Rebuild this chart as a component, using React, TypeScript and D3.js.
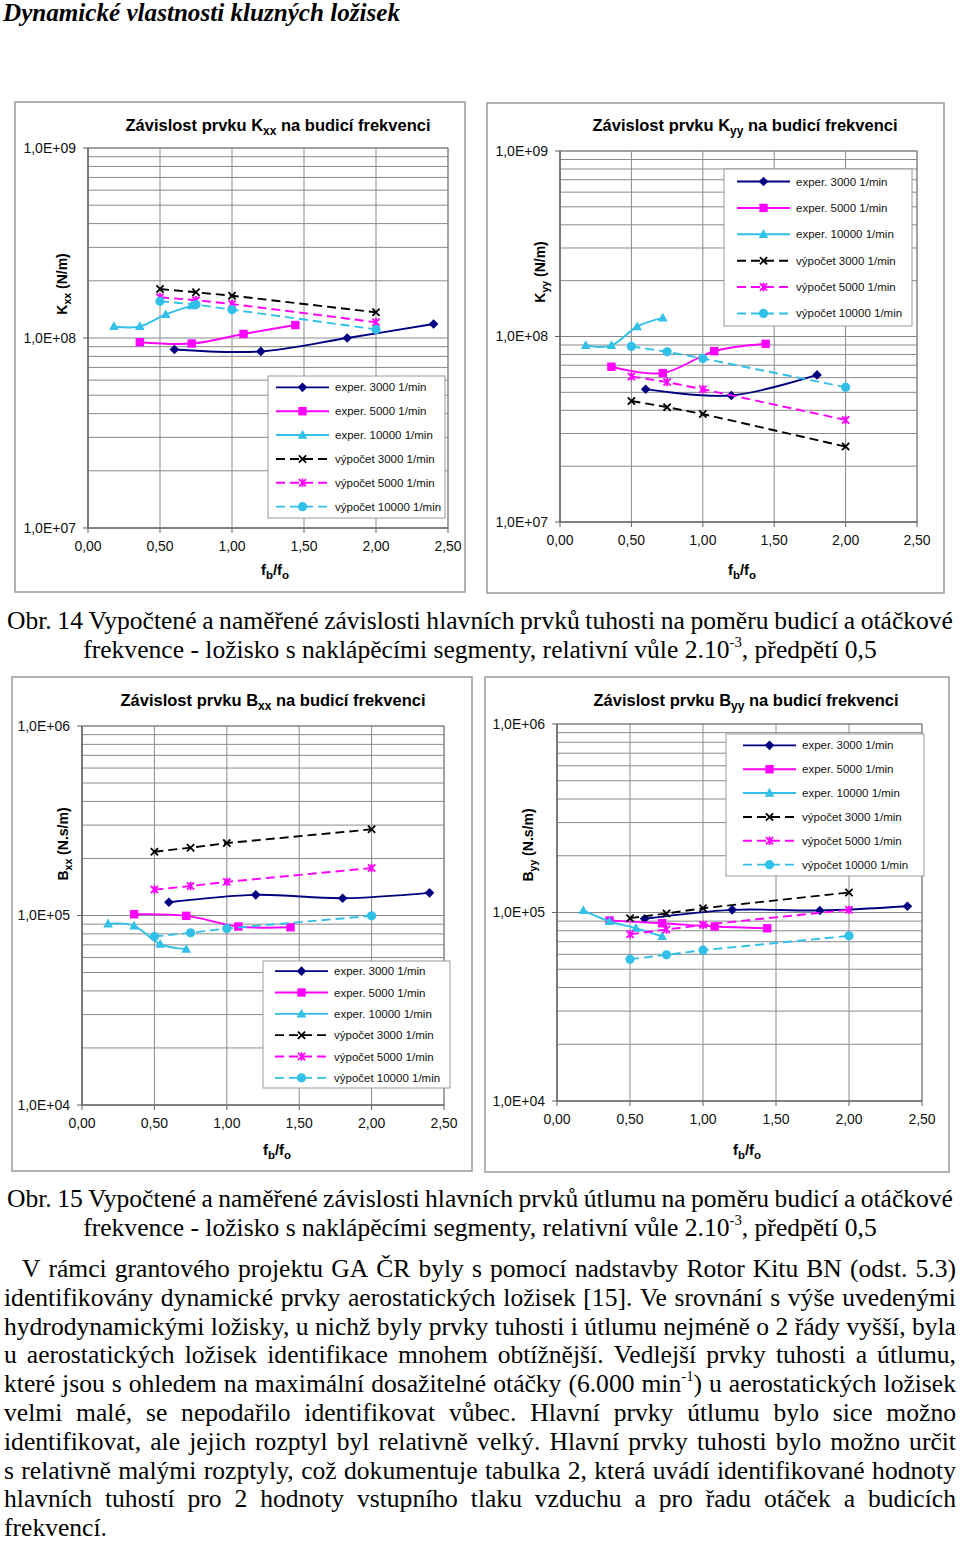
import React, { useMemo } from 'react';
import * as d3 from 'd3';

// ---------------- data ----------------
const xExp3000 = [0.6, 1.2, 1.8, 2.4];
const xExp3000Kyy = [0.6, 1.2, 1.8];
const xExp5000 = [0.36, 0.72, 1.08, 1.44];
const xExp10000 = [0.18, 0.36, 0.54, 0.72];
const xCalc = [0.5, 0.75, 1.0, 2.0];

const kxxExp3000 = [8.7e7, 8.5e7, 1.0e8, 1.185e8];
const kxxExp5000 = [9.5e7, 9.35e7, 1.05e8, 1.17e8];
const kxxExp10000 = [1.15e8, 1.15e8, 1.33e8, 1.48e8];
const kxxCalc3000 = [1.81e8, 1.74e8, 1.67e8, 1.365e8];
const kxxCalc5000 = [1.64e8, 1.58e8, 1.51e8, 1.21e8];
const kxxCalc10000 = [1.56e8, 1.5e8, 1.41e8, 1.11e8];

const kyyExp3000 = [5.2e7, 4.81e7, 6.21e7];
const kyyExp5000 = [6.87e7, 6.35e7, 8.34e7, 9.13e7];
const kyyExp10000 = [8.95e7, 8.95e7, 1.13e8, 1.26e8];
const kyyCalc3000 = [4.49e7, 4.16e7, 3.82e7, 2.55e7];
const kyyCalc5000 = [6.09e7, 5.68e7, 5.2e7, 3.55e7];
const kyyCalc10000 = [8.84e7, 8.27e7, 7.62e7, 5.33e7];

const bxxExp3000 = [1.175e5, 1.285e5, 1.234e5, 1.317e5];
const bxxExp5000 = [1.016e5, 9.96e4, 8.75e4, 8.67e4];
const bxxExp10000 = [9.04e4, 8.82e4, 7.06e4, 6.65e4];
const bxxCalc3000 = [2.17e5, 2.28e5, 2.41e5, 2.85e5];
const bxxCalc5000 = [1.37e5, 1.43e5, 1.505e5, 1.78e5];
const bxxCalc10000 = [7.75e4, 8.1e4, 8.54e4, 9.96e4];

const byyExp3000 = [9.26e4, 1.033e5, 1.025e5, 1.08e5];
const byyExp5000 = [9.07e4, 8.77e4, 8.43e4, 8.25e4];
const byyExp10000 = [1.025e5, 8.96e4, 8.26e4, 7.46e4];
const byyCalc3000 = [9.33e4, 9.88e4, 1.054e5, 1.277e5];
const byyCalc5000 = [7.67e4, 8.12e4, 8.6e4, 1.033e5];
const byyCalc10000 = [5.65e4, 5.96e4, 6.31e4, 7.52e4];

const seriesLabels = [
  'exper. 3000 1/min',
  'exper. 5000 1/min',
  'exper. 10000 1/min',
  'výpočet 3000 1/min',
  'výpočet 5000 1/min',
  'výpočet 10000 1/min',
];

const xTickValues = [0, 0.5, 1.0, 1.5, 2.0, 2.5];
const xTickLabels = ['0,00', '0,50', '1,00', '1,50', '2,00', '2,50'];
const kTickLabels = ['1,0E+07', '1,0E+08', '1,0E+09'];
const bTickLabels = ['1,0E+04', '1,0E+05', '1,0E+06'];

const pageTitle = 'Dynamické vlastnosti kluzných ložisek';
const caption14 = [
  'Obr. 14 Vypočtené a naměřené závislosti hlavních prvků tuhosti na poměru budicí a otáčkové',
  'frekvence - ložisko s naklápěcími segmenty, relativní vůle 2.10^{-3}, předpětí 0,5',
];
const caption15 = [
  'Obr. 15 Vypočtené a naměřené závislosti hlavních prvků útlumu na poměru budicí a otáčkové',
  'frekvence - ložisko s naklápěcími segmenty, relativní vůle 2.10^{-3}, předpětí 0,5',
];
const bodyLines = [
  'V rámci grantového projektu GA ČR byly s pomocí nadstavby Rotor Kitu BN (odst. 5.3)',
  'identifikovány dynamické prvky aerostatických ložisek [15]. Ve srovnání s výše uvedenými',
  'hydrodynamickými ložisky, u nichž byly prvky tuhosti i útlumu nejméně o 2 řády vyšší, byla',
  'u aerostatických ložisek identifikace mnohem obtížnější. Vedlejší prvky tuhosti a útlumu,',
  'které jsou s ohledem na maximální dosažitelné otáčky (6.000 min^{-1}) u aerostatických ložisek',
  'velmi malé, se nepodařilo identifikovat vůbec. Hlavní prvky útlumu bylo sice možno',
  'identifikovat, ale jejich rozptyl byl relativně velký. Hlavní prvky tuhosti bylo možno určit',
  's relativně malými rozptyly, což dokumentuje tabulka 2, která uvádí identifikované hodnoty',
  'hlavních tuhostí pro 2 hodnoty vstupního tlaku vzduchu a pro řadu otáček a budicích',
  'frekvencí.',
];

// ---------------- styles ----------------
const CYAN = '#30C0E8';
const seriesStyles = [
  { color: '#000080', dash: null, marker: 'diamond', smooth: true },
  { color: '#FF00FF', dash: null, marker: 'square', smooth: true },
  { color: CYAN, dash: null, marker: 'triangle', smooth: true },
  { color: '#000000', dash: '9,5', marker: 'x', smooth: false },
  { color: '#FF00FF', dash: '9,5', marker: 'star', smooth: false },
  { color: CYAN, dash: '9,5', marker: 'circle', smooth: false },
];

const charts = [
  {
    key: 'kxx', frame: [15, 102, 465, 592], plot: [88, 148, 448, 528], yExp: [7, 9], yTicks: kTickLabels,
    sym: 'K', sub: 'xx', unit: '(N/m)', titleX: 278, titleY: 131, ylabX: 62, ylabY: 284, xlabX: 275, xlabY: 575,
    legend: [268, 376, 445, 518], legendX: 276,
    series: [[xExp3000, kxxExp3000], [xExp5000, kxxExp5000], [xExp10000, kxxExp10000], [xCalc, kxxCalc3000], [xCalc, kxxCalc5000], [xCalc, kxxCalc10000]],
  },
  {
    key: 'kyy', frame: [487, 103, 944, 593], plot: [560, 151, 917, 522], yExp: [7, 9], yTicks: kTickLabels,
    sym: 'K', sub: 'yy', unit: '(N/m)', titleX: 745, titleY: 131, ylabX: 540, ylabY: 272, xlabX: 742, xlabY: 575,
    legend: [724, 169, 912, 326], legendX: 737,
    series: [[xExp3000Kyy, kyyExp3000], [xExp5000, kyyExp5000], [xExp10000, kyyExp10000], [xCalc, kyyCalc3000], [xCalc, kyyCalc5000], [xCalc, kyyCalc10000]],
  },
  {
    key: 'bxx', frame: [12, 677, 472, 1171], plot: [82, 726, 444, 1105], yExp: [4, 6], yTicks: bTickLabels,
    sym: 'B', sub: 'xx', unit: '(N.s/m)', titleX: 273, titleY: 706, ylabX: 63, ylabY: 844, xlabX: 277, xlabY: 1155,
    legend: [263, 961, 450, 1088], legendX: 275,
    series: [[xExp3000, bxxExp3000], [xExp5000, bxxExp5000], [xExp10000, bxxExp10000], [xCalc, bxxCalc3000], [xCalc, bxxCalc5000], [xCalc, bxxCalc10000]],
  },
  {
    key: 'byy', frame: [485, 677, 949, 1172], plot: [557, 724, 922, 1101], yExp: [4, 6], yTicks: bTickLabels,
    sym: 'B', sub: 'yy', unit: '(N.s/m)', titleX: 746, titleY: 706, ylabX: 528, ylabY: 845, xlabX: 747, xlabY: 1155,
    legend: [726, 734, 924, 876], legendX: 743,
    series: [[xExp3000, byyExp3000], [xExp5000, byyExp5000], [xExp10000, byyExp10000], [xCalc, byyCalc3000], [xCalc, byyCalc5000], [xCalc, byyCalc10000]],
  },
];

const SANS = '"Liberation Sans", Arial, sans-serif';
const SERIF = '"Liberation Serif", "Times New Roman", serif';

function Marker({ type, x, y, color }: { type: string; x: number; y: number; color: string }) {
  switch (type) {
    case 'diamond':
      return <path d={`M${x},${y - 4.8}L${x + 4.8},${y}L${x},${y + 4.8}L${x - 4.8},${y}Z`} fill={color} />;
    case 'square':
      return <rect x={x - 4.2} y={y - 4.2} width={8.4} height={8.4} fill={color} />;
    case 'triangle':
      return <path d={`M${x},${y - 5.2}L${x + 4.8},${y + 3.6}L${x - 4.8},${y + 3.6}Z`} fill={color} />;
    case 'x':
      return <path d={`M${x - 3.6},${y - 3.6}L${x + 3.6},${y + 3.6}M${x - 3.6},${y + 3.6}L${x + 3.6},${y - 3.6}`} stroke={color} strokeWidth={1.8} />;
    case 'star':
      return <path d={`M${x - 3.6},${y - 3.6}L${x + 3.6},${y + 3.6}M${x - 3.6},${y + 3.6}L${x + 3.6},${y - 3.6}M${x},${y - 4.2}L${x},${y + 4.2}`} stroke={color} strokeWidth={1.8} />;
    case 'circle':
      return <circle cx={x} cy={y} r={4.6} fill={color} />;
    default:
      return null;
  }
}

function Chart({ cfg }: { cfg: any }) {
  const [px0, py0, px1, py1] = cfg.plot;
  const [fx0, fy0, fx1, fy1] = cfg.frame;
  const x = d3.scaleLinear().domain([0, 2.5]).range([px0, px1]);
  const y = d3.scaleLog().domain([10 ** cfg.yExp[0], 10 ** cfg.yExp[1]]).range([py1, py0]);
  const gridVals: number[] = [];
  for (let e = cfg.yExp[0]; e < cfg.yExp[1]; e++) for (let m = 1; m <= 9; m++) gridVals.push(m * 10 ** e);
  gridVals.push(10 ** cfg.yExp[1]);
  const decades: number[] = [];
  for (let e = cfg.yExp[0]; e <= cfg.yExp[1]; e++) decades.push(10 ** e);

  const [lx0, ly0, lx1, ly1] = cfg.legend;
  const lh = ly1 - ly0;
  const pad = lh * 0.08;
  const step = (lh - 2 * pad) / 5;

  return (
    <g>
      <rect x={fx0} y={fy0} width={fx1 - fx0} height={fy1 - fy0} fill="white" stroke="#9a9a9a" strokeWidth={1.5} />
      {gridVals.map((v, i) => (
        <line key={'h' + i} x1={px0} x2={px1} y1={y(v)} y2={y(v)} stroke="#8a8a8a" strokeWidth={1} />
      ))}
      {xTickValues.map((v, i) => (
        <line key={'v' + i} x1={x(v)} x2={x(v)} y1={py0} y2={py1} stroke="#8a8a8a" strokeWidth={1} />
      ))}
      <rect x={px0} y={py0} width={px1 - px0} height={py1 - py0} fill="none" stroke="#808080" strokeWidth={1} />
      <line x1={px0} x2={px0} y1={py0} y2={py1} stroke="#606060" strokeWidth={1.2} />
      <line x1={px0} x2={px1} y1={py1} y2={py1} stroke="#606060" strokeWidth={1.2} />
      {decades.map((v, i) => (
        <g key={'yt' + i}>
          <line x1={px0 - 5} x2={px0} y1={y(v)} y2={y(v)} stroke="#606060" />
          <text x={px0 - 12} y={y(v)} dy="0.35em" textAnchor="end" fontFamily={SANS} fontSize={14} fill="#111">
            {cfg.yTicks[i]}
          </text>
        </g>
      ))}
      {xTickValues.map((v, i) => (
        <g key={'xt' + i}>
          <line x1={x(v)} x2={x(v)} y1={py1} y2={py1 + 5} stroke="#606060" />
          <text x={x(v)} y={py1 + 23} textAnchor="middle" fontFamily={SANS} fontSize={14} fill="#111">
            {xTickLabels[i]}
          </text>
        </g>
      ))}
      {cfg.series.map((s: number[][], i: number) => {
        const st = seriesStyles[i];
        const pts = s[0].map((xv, j) => [x(xv), y(s[1][j])] as [number, number]);
        const gen = d3.line().curve(st.smooth ? d3.curveCardinal.tension(0) : d3.curveLinear);
        return (
          <g key={'s' + i}>
            <path d={gen(pts) || ''} fill="none" stroke={st.color} strokeWidth={1.9} strokeDasharray={st.dash || undefined} />
            {pts.map((p, j) => (
              <Marker key={j} type={st.marker} x={p[0]} y={p[1]} color={st.color} />
            ))}
          </g>
        );
      })}
      <rect x={lx0} y={ly0} width={lx1 - lx0} height={ly1 - ly0} fill="white" stroke="#9a9a9a" strokeWidth={1} />
      {seriesLabels.map((lab, i) => {
        const st = seriesStyles[i];
        const yy = ly0 + pad + i * step;
        return (
          <g key={'l' + i}>
            <line x1={cfg.legendX} x2={cfg.legendX + 53} y1={yy} y2={yy} stroke={st.color} strokeWidth={1.9} strokeDasharray={st.dash || undefined} />
            <Marker type={st.marker} x={cfg.legendX + 26.5} y={yy} color={st.color} />
            <text x={cfg.legendX + 59} y={yy} dy="0.35em" fontFamily={SANS} fontSize={11.5} fill="#111">
              {lab}
            </text>
          </g>
        );
      })}
      <text x={cfg.titleX} y={cfg.titleY} textAnchor="middle" fontFamily={SANS} fontSize={16.5} fontWeight="bold" fill="#000">
        <tspan>{'Závislost prvku ' + cfg.sym}</tspan>
        <tspan dy={4} fontSize={12}>{cfg.sub}</tspan>
        <tspan dy={-4}>{' na budicí frekvenci'}</tspan>
      </text>
      <text transform={`translate(${cfg.ylabX},${cfg.ylabY}) rotate(-90)`} textAnchor="middle" dy="0.35em" fontFamily={SANS} fontSize={14} fontWeight="bold" fill="#000">
        <tspan>{cfg.sym}</tspan>
        <tspan dy={4} fontSize={10.5}>{cfg.sub}</tspan>
        <tspan dy={-4}>{'  ' + cfg.unit}</tspan>
      </text>
      <text x={cfg.xlabX} y={cfg.xlabY} textAnchor="middle" fontFamily={SANS} fontSize={15} fontWeight="bold" fill="#000">
        <tspan>f</tspan>
        <tspan dy={4} fontSize={11.5}>b</tspan>
        <tspan dy={-4}>/f</tspan>
        <tspan dy={4} fontSize={11.5}>o</tspan>
      </text>
    </g>
  );
}

// ---------------- page text ----------------
type Seg = { t: string; sup: boolean };
function parseWord(w: string): Seg[] {
  const out: Seg[] = [];
  const re = /\^\{([^}]*)\}/g;
  let last = 0;
  let m: RegExpExecArray | null;
  while ((m = re.exec(w))) {
    if (m.index > last) out.push({ t: w.slice(last, m.index), sup: false });
    out.push({ t: m[1], sup: true });
    last = m.index + m[0].length;
  }
  if (last < w.length) out.push({ t: w.slice(last), sup: false });
  return out;
}

const F = 26;
const SUPF = 15;

function useMeasure() {
  return useMemo(() => {
    const c = document.createElement('canvas');
    const ctx = c.getContext('2d')!;
    return (t: string, size: number) => {
      ctx.font = `${size}px "Liberation Serif"`;
      return ctx.measureText(t).width;
    };
  }, []);
}

function wordWidth(measure: any, w: string) {
  return parseWord(w).reduce((a, s) => a + measure(s.t, s.sup ? SUPF : F), 0);
}

function WordText({ w, x }: { w: string; x: number }) {
  const segs = parseWord(w);
  let raised = false;
  return (
    <text x={x} y={0} fontFamily={SERIF} fontSize={F} fill="#000">
      {segs.map((s, i) => {
        let dy = 0;
        if (s.sup && !raised) { dy = -11; raised = true; }
        else if (!s.sup && raised) { dy = 11; raised = false; }
        return (
          <tspan key={i} dy={dy || undefined} fontSize={s.sup ? SUPF : F}>
            {s.t}
          </tspan>
        );
      })}
    </text>
  );
}

function TextLine({ line, x0, x1, baseline, mode, s, measure }: any) {
  const words = line.split(' ');
  const widths = words.map((w: string) => wordWidth(measure, w));
  const sum = widths.reduce((a: number, b: number) => a + b, 0);
  const space = measure(' ', F);
  let gap = space;
  let startX = x0;
  if (mode === 'justify' && words.length > 1) {
    gap = ((x1 - x0) / s - sum) / (words.length - 1);
  } else if (mode === 'center') {
    const total = (sum + space * (words.length - 1)) * s;
    startX = 480 - total / 2;
  }
  let pos = 0;
  const items = words.map((w: string, i: number) => {
    const el = <WordText key={i} w={w} x={pos} />;
    pos += widths[i] + gap;
    return el;
  });
  return <g transform={`translate(${startX},${baseline}) scale(${s},1)`}>{items}</g>;
}

export default function App() {
  const measure = useMeasure();
  const s = useMemo(() => {
    let best = Infinity;
    for (let i = 1; i <= 8; i++) {
      const words = bodyLines[i].split(' ');
      const nat = words.reduce((a, w) => a + wordWidth(measure, w), 0) + measure(' ', F) * (words.length - 1);
      best = Math.min(best, 952 / nat);
    }
    return best;
  }, [measure]);

  const bodyBase = 1277;
  const lh = 28.8;
  return (
    <svg width={960} height={1541} style={{ position: 'absolute', left: 0, top: 0, background: 'white' }}>
      <rect x={0} y={0} width={960} height={1541} fill="white" />
      <text x={3} y={21} fontFamily={SERIF} fontSize={25} fontWeight="bold" fontStyle="italic" textLength={397} lengthAdjust="spacingAndGlyphs" fill="#000">
        {pageTitle}
      </text>
      {charts.map((c) => (
        <Chart key={c.key} cfg={c} />
      ))}
      <TextLine line={caption14[0]} x0={7} x1={953} baseline={629} mode="justify" s={s} measure={measure} />
      <TextLine line={caption14[1]} baseline={658} mode="center" s={s} measure={measure} />
      <TextLine line={caption15[0]} x0={7} x1={953} baseline={1207} mode="justify" s={s} measure={measure} />
      <TextLine line={caption15[1]} baseline={1236} mode="center" s={s} measure={measure} />
      {bodyLines.map((l, i) => (
        <TextLine
          key={i}
          line={l}
          x0={i === 0 ? 22 : 4}
          x1={956}
          baseline={bodyBase + i * lh}
          mode={i === bodyLines.length - 1 ? 'left' : 'justify'}
          s={s}
          measure={measure}
        />
      ))}
    </svg>
  );
}
